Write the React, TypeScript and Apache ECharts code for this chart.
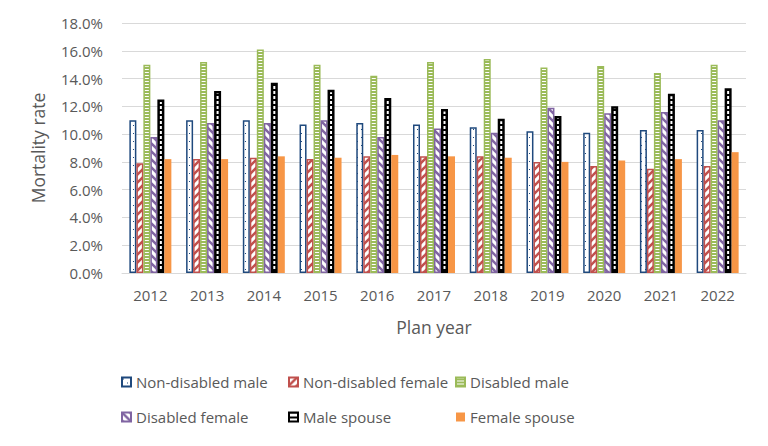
import React, { useEffect, useRef } from "react";
import * as echarts from "echarts";

const years = ["2012", "2013", "2014", "2015", "2016", "2017", "2018", "2019", "2020", "2021", "2022"];
const nonDisabledMale = [11.0, 11.0, 11.0, 10.7, 10.8, 10.7, 10.5, 10.2, 10.1, 10.3, 10.3];
const nonDisabledFemale = [7.9, 8.2, 8.3, 8.2, 8.4, 8.4, 8.4, 8.0, 7.7, 7.5, 7.7];
const disabledMale = [15.0, 15.2, 16.1, 15.0, 14.2, 15.2, 15.4, 14.8, 14.9, 14.4, 15.0];
const disabledFemale = [9.8, 10.8, 10.8, 11.0, 9.8, 10.4, 10.1, 11.9, 11.5, 11.6, 11.0];
const maleSpouse = [12.5, 13.1, 13.7, 13.2, 12.6, 11.8, 11.1, 11.3, 12.0, 12.9, 13.3];
const femaleSpouse = [8.2, 8.2, 8.4, 8.3, 8.5, 8.4, 8.3, 8.0, 8.1, 8.2, 8.7];
const yTicks = [0, 2, 4, 6, 8, 10, 12, 14, 16, 18];

const FONT = "'Open Sans', sans-serif";
const TEXT = "#595959";

function makePattern(w: number, h: number, draw: (ctx: CanvasRenderingContext2D) => void) {
  const c = document.createElement("canvas");
  c.width = w;
  c.height = h;
  const ctx = c.getContext("2d") as CanvasRenderingContext2D;
  draw(ctx);
  return { image: c.toDataURL(), repeat: "repeat", imageWidth: w, imageHeight: h };
}

export default function App() {
  const ref = useRef<HTMLDivElement>(null);
  useEffect(() => {
    if (!ref.current) return;
    const chart = echarts.init(ref.current, null, { renderer: "svg" });

    const blue = "#1F497D";
    const red = "#C0504D";
    const green = "#9BBB59";
    const purple = "#8064A2";
    const black = "#000000";
    const orange = "#F79646";

    const dotPat = makePattern(8, 8, (ctx) => {
      ctx.fillStyle = "#fff";
      ctx.fillRect(0, 0, 8, 8);
      ctx.fillStyle = blue;
      ctx.fillRect(1, 1, 1, 1);
      ctx.fillRect(5, 5, 1, 1);
    });
    const upPat = makePattern(8, 8, (ctx) => {
      ctx.fillStyle = "#fff";
      ctx.fillRect(0, 0, 8, 8);
      ctx.strokeStyle = red;
      ctx.lineWidth = 2.5;
      for (const o of [-8, 0, 8]) {
        ctx.beginPath();
        ctx.moveTo(o - 1, 9);
        ctx.lineTo(o + 9, -1);
        ctx.stroke();
      }
    });
    const downPat = makePattern(8, 8, (ctx) => {
      ctx.fillStyle = "#fff";
      ctx.fillRect(0, 0, 8, 8);
      ctx.strokeStyle = purple;
      ctx.lineWidth = 2.5;
      for (const o of [-8, 0, 8]) {
        ctx.beginPath();
        ctx.moveTo(o - 1, -1);
        ctx.lineTo(o + 9, 9);
        ctx.stroke();
      }
    });
    const horPat = makePattern(2, 3, (ctx) => {
      ctx.fillStyle = green;
      ctx.fillRect(0, 0, 2, 3);
      ctx.fillStyle = "#fff";
      ctx.fillRect(0, 0, 2, 1);
    });
    const brickPat = makePattern(2, 5, (ctx) => {
      ctx.fillStyle = black;
      ctx.fillRect(0, 0, 2, 5);
      ctx.fillStyle = "#fff";
      ctx.fillRect(0, 1, 2, 3);
    });

    const defs = [
      { name: "Non-disabled male", data: nonDisabledMale, fill: dotPat, border: blue, bw: 1.5 },
      { name: "Non-disabled female", data: nonDisabledFemale, fill: upPat, border: red, bw: 1.5 },
      { name: "Disabled male", data: disabledMale, fill: horPat, border: green, bw: 1.5 },
      { name: "Disabled female", data: disabledFemale, fill: downPat, border: purple, bw: 1.5 },
      { name: "Male spouse", data: maleSpouse, fill: brickPat, border: black, bw: 2.5 },
      { name: "Female spouse", data: femaleSpouse, fill: orange, border: orange, bw: 0 },
    ];

    const legendPos = [
      [116, 367], [283, 367], [450, 367],
      [116, 402], [283, 402], [451, 402],
    ];

    chart.setOption({
      animation: false,
      backgroundColor: "#fff",
      grid: { left: 122, right: 22, top: 23, bottom: 173, containLabel: false },
      legend: defs.map((d, i) => ({
        data: [d.name],
        left: legendPos[i][0],
        top: legendPos[i][1],
        itemWidth: 9,
        itemHeight: 9,
        icon: "rect",
        textStyle: { fontFamily: FONT, fontSize: 15, color: TEXT, lineHeight: 20 },
        selectedMode: false,
      })),
      xAxis: {
        type: "category",
        data: years,
        axisLine: { lineStyle: { color: "#D9D9D9", width: 1 } },
        axisTick: { show: false },
        axisLabel: { fontFamily: FONT, fontSize: 15, color: TEXT, margin: 14 },
        name: "Plan year",
        nameLocation: "middle",
        nameGap: 45,
        nameTextStyle: { fontFamily: FONT, fontSize: 17.5, color: TEXT },
      },
      yAxis: {
        type: "value",
        min: yTicks[0],
        max: yTicks[yTicks.length - 1],
        interval: 2,
        axisLine: { show: false },
        axisTick: { show: false },
        splitLine: { lineStyle: { color: "#D9D9D9", width: 1 } },
        axisLabel: {
          fontFamily: FONT,
          fontSize: 15,
          color: TEXT,
          margin: 19,
          formatter: (v: number) => v.toFixed(1) + "%",
        },
        name: "Mortality rate",
        nameLocation: "middle",
        nameGap: 75,
        nameTextStyle: { fontFamily: FONT, fontSize: 17.5, color: TEXT },
      },
      series: defs.map((d) => ({
        type: "bar",
        name: d.name,
        data: d.data,
        barWidth: 7,
        barGap: "0%",
        itemStyle: { color: d.fill, borderColor: d.border, borderWidth: d.bw },
      })),
    });
    return () => chart.dispose();
  }, []);
  return (
    <div
      ref={ref}
      style={{ position: "fixed", left: 0, top: 0, width: 768, height: 446 }}
    />
  );
}
